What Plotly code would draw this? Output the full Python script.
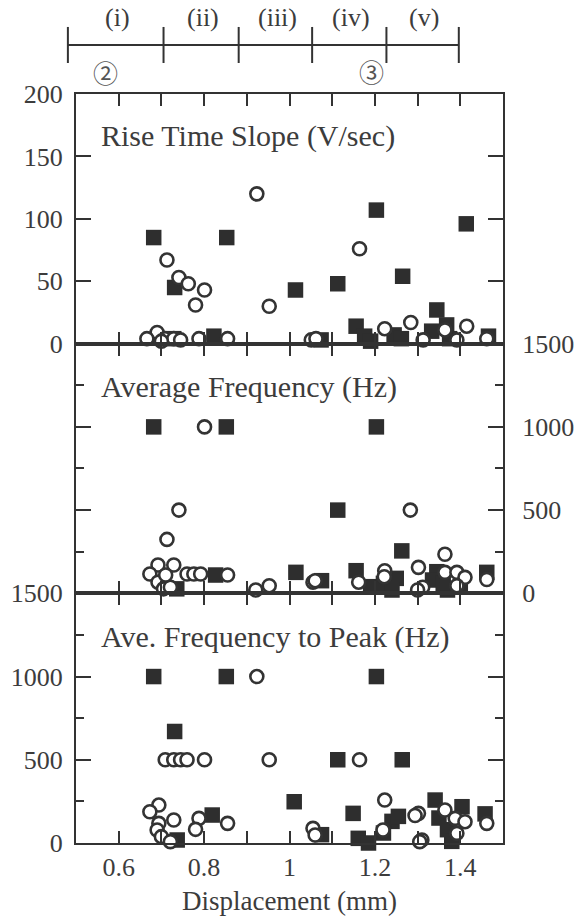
import plotly.graph_objects as go

# ---------------- data ----------------
# Panel 1: Rise Time Slope (V/sec)
rts_sq_x = [0.682, 0.853, 0.731, 1.014, 1.113, 1.2035, 1.265, 1.414, 1.345, 1.156, 1.368, 1.333,
            1.176, 1.245, 1.262, 0.823, 0.729, 1.074, 1.19, 1.466, 1.375]
rts_sq_y = [85, 85, 45, 43, 48, 107, 54, 96, 27, 14, 15, 10, 6, 7, 4, 6, 4, 3, 2, 6, 4]
rts_ci_x = [0.9235, 1.164, 0.713, 0.741, 0.763, 0.801, 0.780, 0.9525, 1.284, 1.223, 1.415, 1.364,
            0.690, 0.666, 0.709, 0.729, 0.700, 0.788, 0.855, 1.051, 1.062, 1.313, 1.392, 1.462, 0.745]
rts_ci_y = [120, 76, 67, 53, 48, 43, 31, 30, 17, 12, 14, 11, 9, 4, 4, 4, 2, 4, 4, 3, 4, 3, 3, 4, 3]

# Panel 2: Average Frequency (Hz)
af_sq_x = [0.682, 0.852, 1.2035, 1.113, 1.263, 1.015, 1.156, 0.827, 0.736, 1.075, 1.19, 1.22,
           1.25, 1.24, 1.345, 1.335, 1.36, 1.40, 1.462, 1.37]
af_sq_y = [1000, 1000, 1000, 500, 255, 126, 136, 110, 27, 76, 40, 60, 90, 20, 130, 80, 60, 40, 126, 20]
af_ci_x = [0.801, 1.283, 0.741, 0.713, 1.364, 0.692, 0.729, 0.673, 0.692, 0.705, 0.721, 0.760,
           0.776, 0.792, 0.855, 0.921, 0.9525, 1.055, 1.060, 1.162, 1.223, 1.222, 1.302, 1.312,
           1.300, 1.364, 1.392, 1.411, 1.392, 1.462, 0.710]
af_ci_y = [1000, 500, 500, 324, 235, 170, 170, 116, 67, 27, 37, 116,
           116, 116, 110, 20, 46, 67, 76, 67, 136, 100, 156, 37,
           20, 126, 126, 96, 46, 83, 110]

# Panel 3: Ave. Frequency to Peak (Hz)
afp_sq_x = [0.682, 0.852, 1.2035, 0.731, 1.113, 1.264, 1.011, 0.819, 0.737, 1.075, 1.149, 1.161,
            1.185, 1.24, 1.255, 1.341, 1.404, 1.35, 1.37, 1.38, 1.458, 1.22]
afp_sq_y = [1000, 1000, 1000, 670, 500, 500, 248, 168, 18, 50, 178, 28,
            0, 130, 160, 258, 218, 150, 80, 10, 175, 60]
afp_ci_x = [0.9235, 0.709, 0.729, 0.745, 0.760, 0.801, 0.9525, 1.164, 0.694, 0.673, 0.694, 0.690,
            0.700, 0.721, 0.729, 0.788, 0.780, 0.855, 1.055, 1.060, 1.223, 1.302, 1.294, 1.219,
            1.310, 1.305, 1.364, 1.388, 1.411, 1.392, 1.462]
afp_ci_y = [1000, 500, 500, 500, 500, 500, 500, 500, 228, 188, 118, 78,
            38, 8, 138, 148, 82, 118, 88, 48, 258, 178, 165, 78,
            18, 8, 198, 148, 128, 58, 118]

panel_titles = ["Rise Time Slope (V/sec)", "Average Frequency (Hz)", "Ave. Frequency to Peak (Hz)"]
stage_labels = ["(i)", "(ii)", "(iii)", "(iv)", "(v)"]
stage_bounds = [0.481, 0.705, 0.881, 1.053, 1.227, 1.3965]   # displacement (mm)
x_label = "Displacement (mm)"

X_MIN, X_MAX = 0.5, 1.5

# ---------------- styling ----------------
FONT = "Liberation Serif"
TXT = "#3c3c3c"
LINE = "#333333"
SQ = "#2e2e2e"

fig = go.Figure()

panels = [
    (rts_sq_x, rts_sq_y, rts_ci_x, rts_ci_y, "x", "y"),
    (af_sq_x, af_sq_y, af_ci_x, af_ci_y, "x2", "y2"),
    (afp_sq_x, afp_sq_y, afp_ci_x, afp_ci_y, "x3", "y3"),
]
for sx, sy, cx, cy, xa, ya in panels:
    fig.add_trace(go.Scatter(x=sx, y=sy, mode="markers", xaxis=xa, yaxis=ya, cliponaxis=False,
                             marker=dict(symbol="square", size=15.5, color=SQ, line=dict(width=0)),
                             showlegend=False, hoverinfo="skip"))
    fig.add_trace(go.Scatter(x=cx, y=cy, mode="markers", xaxis=xa, yaxis=ya, cliponaxis=False,
                             marker=dict(symbol="circle", size=13, color="white",
                                         line=dict(width=2.6, color=LINE)),
                             showlegend=False, hoverinfo="skip"))

tickfont = dict(family=FONT, size=26, color=TXT)

def xaxis(anchor, labels):
    return dict(range=[X_MIN, X_MAX], tick0=0.6, dtick=0.2, ticks="inside", ticklen=12, tickwidth=2,
                tickcolor=LINE, showline=True, linewidth=2, linecolor=LINE, mirror="ticks",
                showgrid=False, zeroline=False, showticklabels=labels, tickfont=tickfont,
                anchor=anchor, domain=[0, 1], automargin=False,
                minor=dict(dtick=0.1, tick0=0.5, ticks="inside", ticklen=12, tickwidth=2,
                           tickcolor=LINE, showgrid=False))

def yaxis(domain, rng, dtick, anchor, side, minor):
    d = dict(domain=domain, range=rng, dtick=dtick, ticks="inside", ticklen=15, tickwidth=2,
             tickcolor=LINE, showline=True, linewidth=2, linecolor=LINE, mirror="ticks",
             showgrid=False, zeroline=False, tickfont=tickfont, anchor=anchor, side=side,
             automargin=False, ticklabelstandoff=6 if side == "left" else 12)
    if minor:
        d["minor"] = dict(dtick=minor, ticks="inside", ticklen=8, tickwidth=2,
                          tickcolor=LINE, showgrid=False)
    return d

fig.update_layout(
    width=582, height=920,
    margin=dict(l=76, r=79, t=94, b=77, autoexpand=False),
    paper_bgcolor="white", plot_bgcolor="white",
    font=dict(family=FONT, color=TXT),
    xaxis=xaxis("y", False),
    xaxis2=xaxis("y2", False),
    xaxis3=dict(xaxis("y3", True),
                title=dict(text=x_label, font=dict(family=FONT, size=27, color=TXT), standoff=10)),
    yaxis=yaxis([2/3, 1], [0, 200], 50, "x", "left", None),
    yaxis2=yaxis([1/3, 2/3], [0, 1500], 500, "x2", "right", 250),
    yaxis3=yaxis([0, 1/3], [0, 1500], 500, "x3", "left", 250),
)

# panel titles
title_y = [166, 1237, 1240]
for i, (t, yv) in enumerate(zip(panel_titles, title_y)):
    fig.add_annotation(text=t, x=0.553, y=yv, xref="x" if i == 0 else f"x{i+1}",
                       yref="y" if i == 0 else f"y{i+1}", xanchor="left", yanchor="middle",
                       showarrow=False, font=dict(family=FONT, size=30, color=TXT))

# stage header (converted from displacement to paper x so it is not clipped)
def to_paper(v):
    return (v - X_MIN) / (X_MAX - X_MIN)

fig.add_shape(type="line", xref="paper", yref="paper", x0=to_paper(stage_bounds[0]),
              x1=to_paper(stage_bounds[-1]), y0=1.0654, y1=1.0654, line=dict(color=LINE, width=2))
for b in stage_bounds:
    fig.add_shape(type="line", xref="paper", yref="paper", x0=to_paper(b), x1=to_paper(b),
                  y0=1.0414, y1=1.0895, line=dict(color=LINE, width=2))
for i, lab in enumerate(stage_labels):
    fig.add_annotation(text=lab, x=to_paper((stage_bounds[i] + stage_bounds[i+1]) / 2) + 0.004,
                       y=1.1028, xref="paper", yref="paper", showarrow=False,
                       xanchor="center", yanchor="middle",
                       font=dict(family=FONT, size=26, color=TXT))
for lab, xv, yv in [("②", 0.568, 1.0294), ("③", 1.192, 1.031)]:
    fig.add_annotation(text=lab, x=to_paper(xv), y=yv, xref="paper", yref="paper", showarrow=False,
                       xanchor="center", yanchor="middle",
                       font=dict(family="Noto Sans CJK JP", size=25, color="#555555"))

fig.write_html("out.html", config=dict(displayModeBar=False),
               post_script="document.body.style.margin='0';document.body.style.overflow='hidden';")
